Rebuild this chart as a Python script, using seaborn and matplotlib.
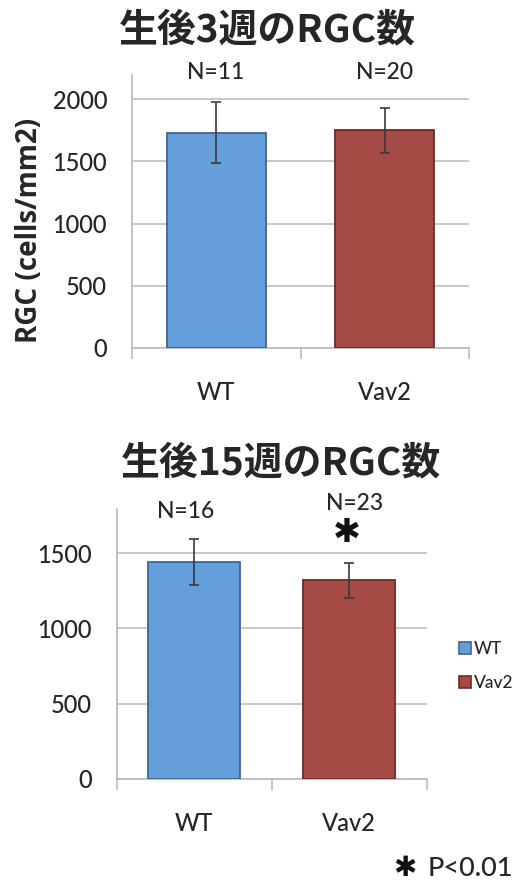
import matplotlib
matplotlib.use("Agg")
import matplotlib.pyplot as plt
import matplotlib.patches as mpatches
import seaborn as sns

# Retinal ganglion cell density, mean ± error, per genotype
genotypes = ["WT", "Vav2"]
week3_mean = [1731, 1751]
week3_err = [245, 181]
week3_n = ["N=11", "N=20"]
week15_mean = [1442, 1320]
week15_err = [152, 117]
week15_n = ["N=16", "N=23"]
week3_ticks = [0, 500, 1000, 1500, 2000]
week15_ticks = [0, 500, 1000, 1500]

bar_colors = ["#659FDB", "#A54A45"]
edge_colors = ["#3E6690", "#6A2C29"]

sns.set_theme(style="white")
plt.rcParams["font.family"] = ["Lato", "Noto Sans CJK JP", "DejaVu Sans"]
cjk = ["Noto Sans CJK JP", "DejaVu Sans"]

fig = plt.figure(figsize=(5.16, 8.82), dpi=100)
ax1 = fig.add_axes([132 / 516, 534.3 / 882, 337 / 516, 272.7 / 882])
ax2 = fig.add_axes([116.7 / 516, 103 / 882, 310 / 516, 270 / 882])


def draw_panel(ax, means, errs, ticks, ymax):
    sns.barplot(x=genotypes, y=means, hue=genotypes, palette=bar_colors,
                width=0.59, ax=ax, legend=False, saturation=1)
    for patch, ec in zip(ax.patches, edge_colors):
        patch.set_edgecolor(ec)
        patch.set_linewidth(1.3)
        patch.set_zorder(3)
    ax.errorbar(range(len(means)), means, yerr=errs, fmt="none",
                ecolor="#3a3a3a", elinewidth=1.2, capsize=3.5,
                capthick=1.2, zorder=4)
    ax.set_xlim(-0.5, 1.5)
    ax.set_ylim(0, ymax)
    ax.set_yticks(ticks)
    ax.set_yticklabels([str(t) for t in ticks], fontsize=17, fontweight="medium")
    ax.yaxis.grid(True, color="#c4c4c4", linewidth=1.3, zorder=0)
    ax.set_axisbelow(True)
    ax.tick_params(axis="y", length=0, pad=18)
    ax.set_xticks([0, 1])
    ax.set_xticklabels(genotypes, fontsize=17, fontweight="medium")
    ax.set_xticks([-0.5, 0.5, 1.5], minor=True)
    ax.tick_params(axis="x", which="major", length=0, pad=24)
    ax.tick_params(axis="x", which="minor", length=8, width=1.2,
                   color="#bdbdbd", direction="out", bottom=True)
    for side in ["top", "right"]:
        ax.spines[side].set_visible(False)
    for side in ["left", "bottom"]:
        ax.spines[side].set_color("#bdbdbd")
        ax.spines[side].set_linewidth(1.3)
    ax.set_xlabel("")


draw_panel(ax1, week3_mean, week3_err, week3_ticks, 2196)
draw_panel(ax2, week15_mean, week15_err, week15_ticks, 1794)

ax1.set_ylabel("RGC (cells/mm2)", fontsize=20, fontweight="bold",
               family=["Open Sans", "DejaVu Sans"])
ax1.yaxis.set_label_coords(-0.262, 0.43)

# sample sizes above the bars
n_style = dict(ha="center", va="center", fontsize=16.5, fontweight="medium")
fig.text(216 / 516, 1 - 72.7 / 882, week3_n[0], **n_style)
fig.text(385 / 516, 1 - 72.7 / 882, week3_n[1], **n_style)
fig.text(186 / 516, 1 - 511.7 / 882, week15_n[0], **n_style)
fig.text(355 / 516, 1 - 503 / 882, week15_n[1], **n_style)

# significance mark
fig.text(347 / 516, 1 - 532 / 882, "✱", ha="center", va="center",
         fontsize=24, family=["DejaVu Sans"], color="#111111")

# titles
fig.text(267 / 516, 1 - 30 / 882, "生後3週のRGC数", ha="center", va="center",
         fontsize=28, fontweight="bold", family=cjk)
fig.text(281 / 516, 1 - 463 / 882, "生後15週のRGC数", ha="center", va="center",
         fontsize=28, fontweight="bold", family=cjk)

# legend
handles = [mpatches.Patch(facecolor=c, edgecolor=e, linewidth=1.2, label=g)
           for c, e, g in zip(bar_colors, edge_colors, genotypes)]
fig.legend(handles=handles, loc="center left", bbox_to_anchor=(452 / 516, 1 - 666 / 882),
           frameon=False, prop={"size": 12.5, "weight": "medium"},
           handlelength=0.7, handleheight=0.7,
           handletextpad=0.15, labelspacing=1.0, borderaxespad=0)

fig.text(405 / 516, 1 - 868 / 882, "✱", ha="center", va="center",
         fontsize=20, family=["DejaVu Sans"], color="#111111")
fig.text(513 / 516, 1 - 868 / 882, "P<0.01", ha="right", va="center",
         fontsize=19.5, fontweight="medium")

fig.savefig("out.png", dpi=100, facecolor="white")
